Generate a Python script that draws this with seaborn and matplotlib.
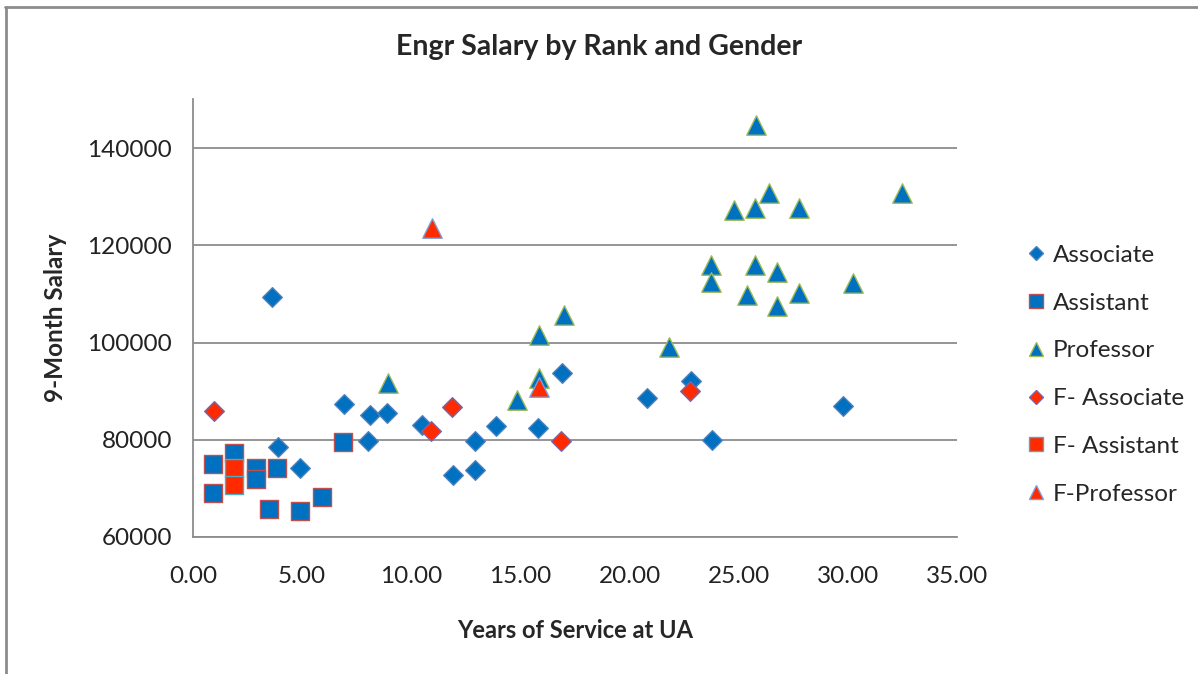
import matplotlib
matplotlib.use("Agg")
import matplotlib.pyplot as plt
import seaborn as sns
import pandas as pd
from matplotlib.lines import Line2D

sns.set_theme(style="white")
plt.rcParams["font.family"] = ["Lato", "DejaVu Sans"]

# years of service / 9-month salary
assoc_x = [3.6, 3.9, 4.9, 6.9, 8.0, 8.1, 8.9, 10.5, 11.9, 12.9, 12.9, 13.9, 15.8, 16.9, 20.8, 22.8, 23.8, 29.8]
assoc_y = [109400, 78500, 74200, 87350, 79700, 85100, 85500, 83000, 72800, 73800, 79750, 82800, 82400, 93700,
           88600, 92000, 80000, 86900]

asst_x = [0.9, 0.9, 1.9, 2.9, 2.9, 3.85, 3.5, 4.9, 5.9, 6.85]
asst_y = [75000, 69000, 77300, 74200, 72000, 74200, 65700, 65400, 68300, 79600]

prof_x = [25.8, 26.4, 24.8, 25.75, 27.75, 23.75, 23.75, 25.75, 26.75, 25.4, 27.75, 26.75, 30.25, 32.5,
          21.8, 15.85, 17.0, 15.85, 8.95, 14.85]
prof_y = [144700, 130800, 127300, 127600, 127600, 115900, 112400, 115900, 114500, 109800, 110200, 107500,
          112300, 130800, 99100, 101600, 105700, 92700, 91700, 88200]

f_assoc_x = [0.95, 10.9, 11.85, 16.85, 22.75]
f_assoc_y = [85900, 81700, 86700, 79800, 90000]

f_asst_x = [1.9, 1.9]
f_asst_y = [74200, 70700]

f_prof_x = [10.95, 15.85]
f_prof_y = [123500, 90900]

blue = "#0070C0"
red = "#FF2A00"

series = [
    ("Associate", assoc_x, assoc_y, "D", 10.0, blue, "#4F81BD"),
    ("Assistant", asst_x, asst_y, "s", 13.5, blue, "#C0504D"),
    ("Professor", prof_x, prof_y, "^", 14.0, blue, "#9BBB59"),
    ("F- Associate", f_assoc_x, f_assoc_y, "D", 10.0, red, "#8064A2"),
    ("F- Assistant", f_asst_x, f_asst_y, "s", 13.5, red, "#4BACC6"),
    ("F-Professor", f_prof_x, f_prof_y, "^", 14.0, red, "#7F9FD6"),
]

fig = plt.figure(figsize=(11.98, 6.74), dpi=100)
ax = fig.add_axes([0.1611, 0.2033, 0.6377, 0.6492])

handles = []
for name, xs, ys, mk, ms, fc, ec in series:
    df = pd.DataFrame({"years": xs, "salary": ys})
    sns.scatterplot(data=df, x="years", y="salary", marker=mk, s=ms ** 2, color=fc,
                    edgecolor=ec, linewidth=1.0, ax=ax, zorder=3, legend=False)
    handles.append(Line2D([], [], linestyle="none", marker=mk, markersize=ms * 0.75,
                          markerfacecolor=fc, markeredgecolor=ec, label=name))

ax.set_xlim(0, 35)
ax.set_ylim(60000, 150000)
ax.set_xticks(range(0, 36, 5))
ax.set_xticklabels([f"{v:.2f}" for v in range(0, 36, 5)])
ax.set_yticks(range(60000, 140001, 20000))
ax.set_yticklabels([str(v) for v in range(60000, 140001, 20000)])

ax.yaxis.grid(True, color="#8C8C8C", linewidth=1.3)
ax.xaxis.grid(False)
for side in ["top", "right"]:
    ax.spines[side].set_visible(False)
for side in ["left", "bottom"]:
    ax.spines[side].set_color("#8C8C8C")
    ax.spines[side].set_linewidth(1.3)
ax.tick_params(axis="both", direction="out", length=6, width=1.3, color="#8C8C8C",
               labelsize=17.5, labelcolor="#222222")
ax.tick_params(axis="x", pad=15)
ax.tick_params(axis="y", pad=9)

ax.set_xlabel("Years of Service at UA", fontsize=17, fontweight="bold", labelpad=23)
ax.set_ylabel("9-Month Salary", fontsize=17.5, fontweight="bold", labelpad=15)
fig.text(0.5, 0.93, "Engr Salary by Rank and Gender", ha="center", va="center",
         fontsize=20.5, fontweight="bold")

fig.legend(handles=handles, loc="center left", bbox_to_anchor=(0.838, 0.444), frameon=False,
           fontsize=17.5, labelspacing=1.1, handlelength=0.8, handletextpad=0.3)

# outer chart frame (left and top edges visible)
fig.add_artist(Line2D([5.5 / 1198, 5.5 / 1198], [0, 1 - 7 / 674], transform=fig.transFigure,
                      color="#8C8C8C", linewidth=2))
fig.add_artist(Line2D([5 / 1198, 1], [1 - 7 / 674, 1 - 7 / 674], transform=fig.transFigure,
                      color="#8C8C8C", linewidth=2))

fig.savefig("out.png", dpi=100)
